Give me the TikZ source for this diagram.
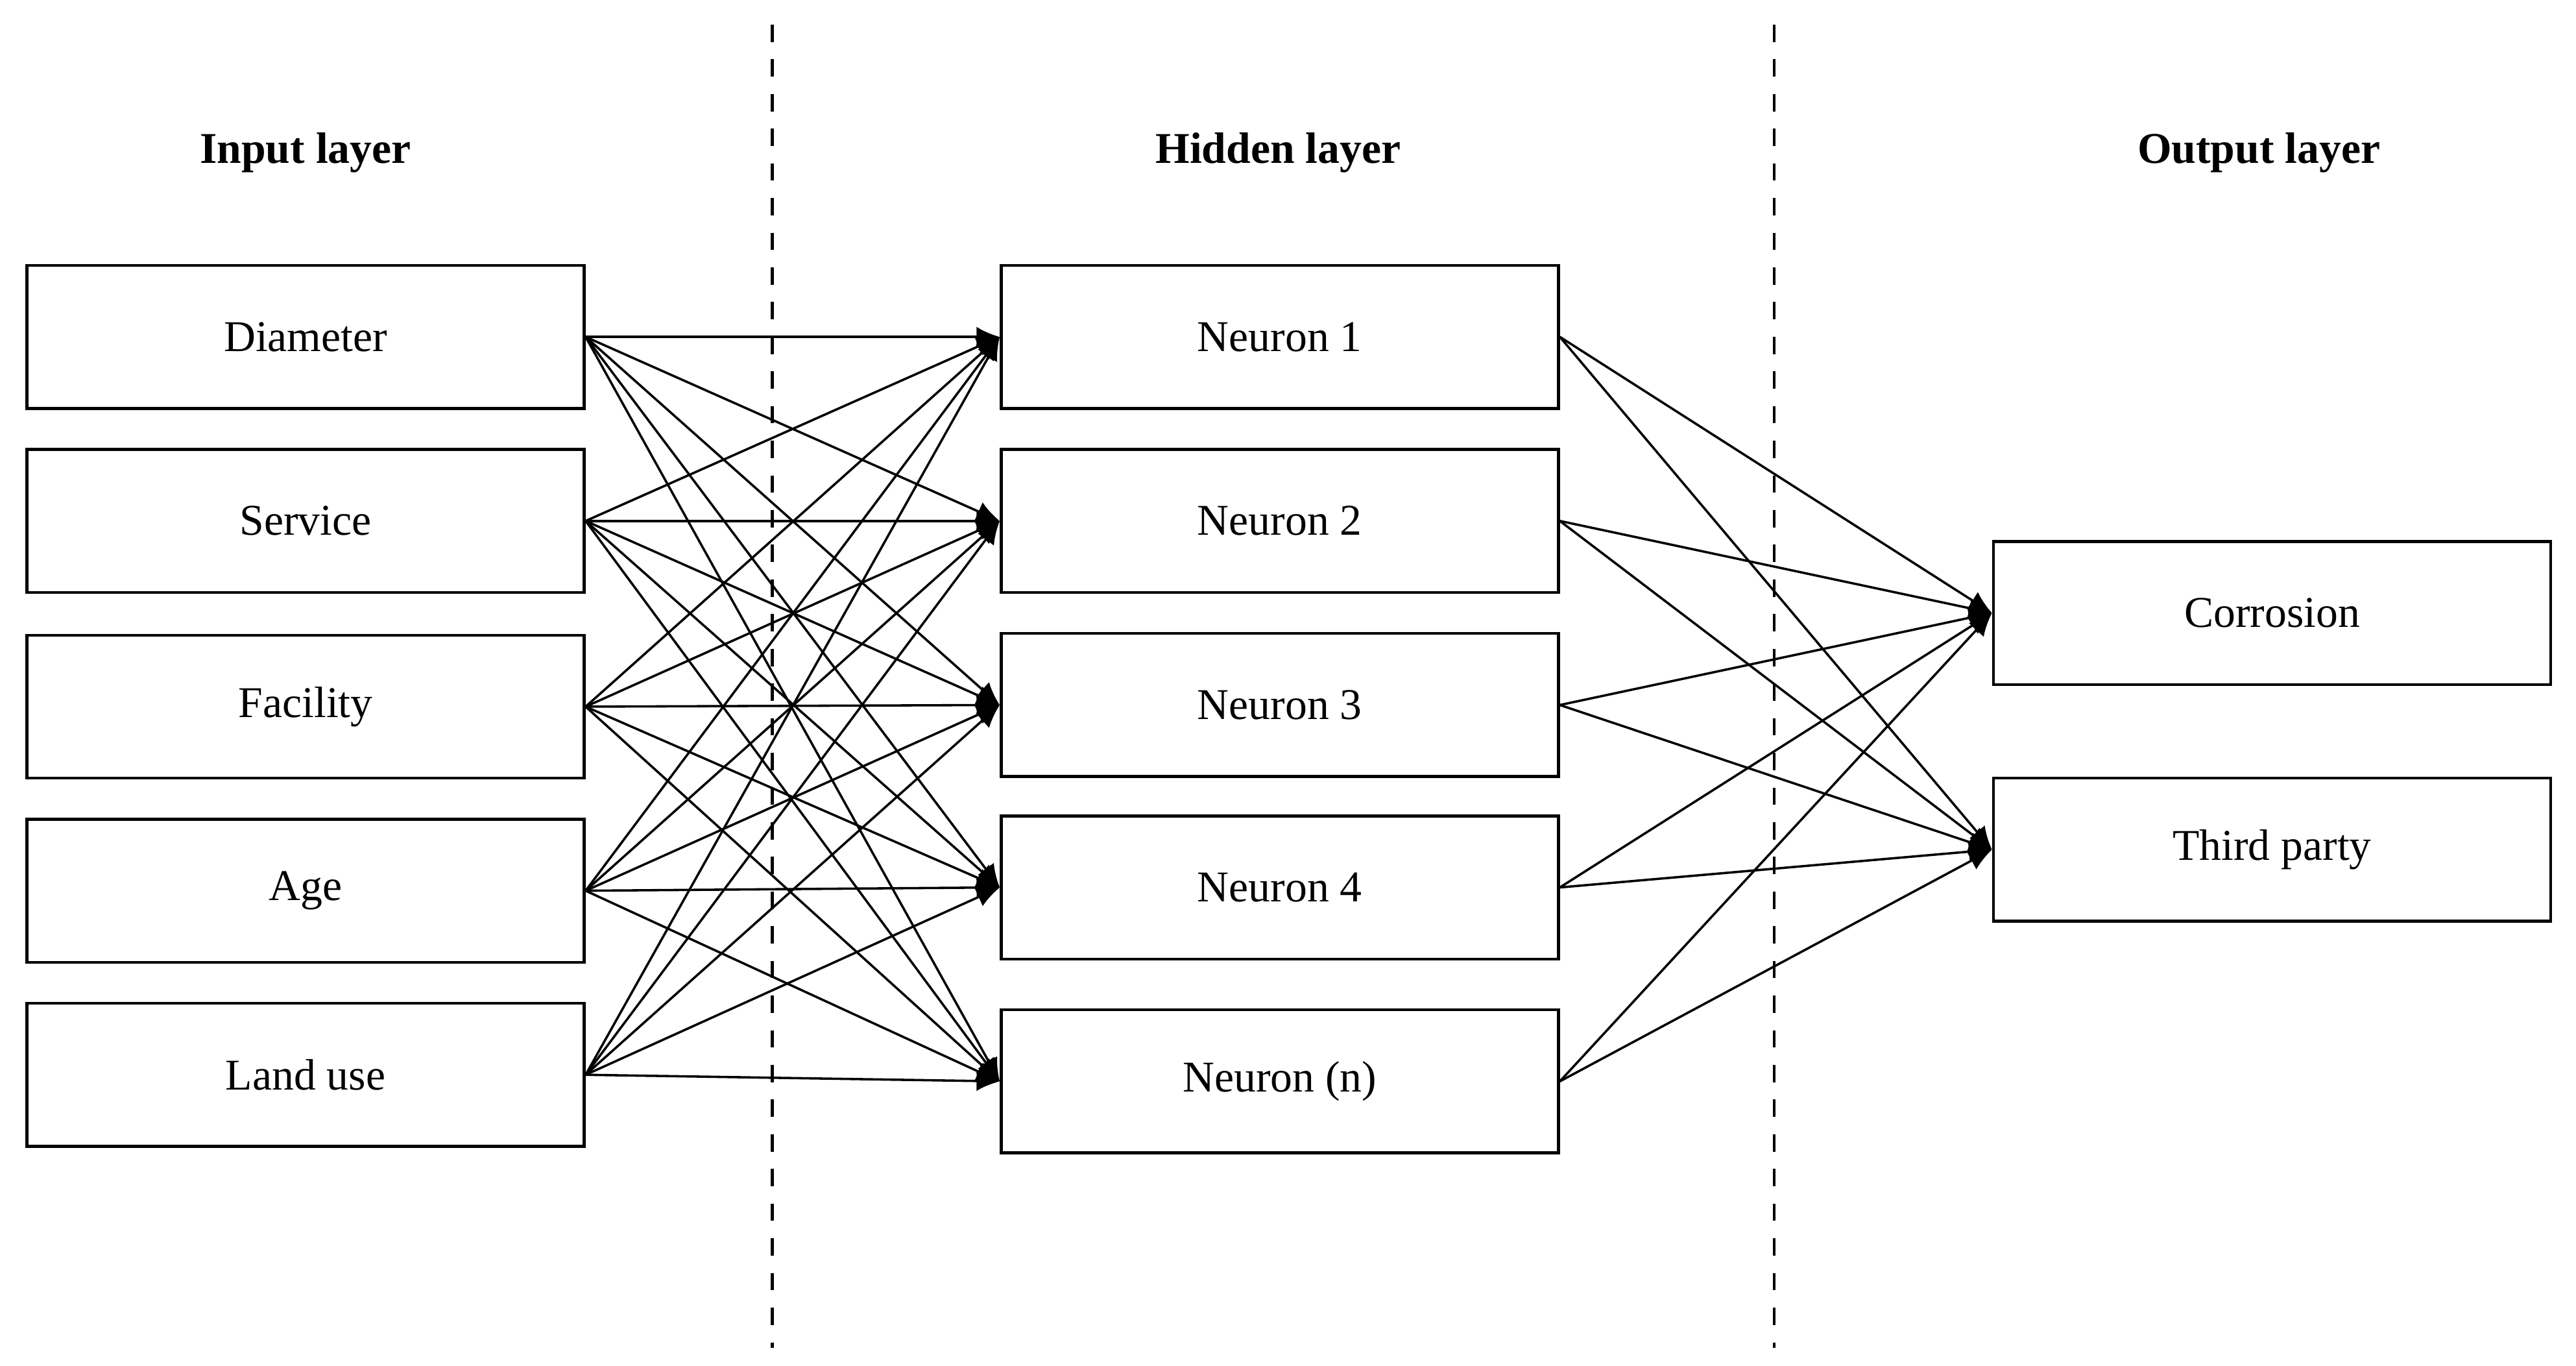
\documentclass[tikz,border=0pt]{standalone}
\usepackage{fontspec}
\setmainfont{Liberation Serif}
\usetikzlibrary{arrows.meta}
\begin{document}
\begin{tikzpicture}[x=0.01cm,y=-0.01cm,
 box/.style={draw,line width=0.5pt,minimum width=3.39cm,minimum height=0.87cm,inner sep=0,font=\fontsize{7.6}{9}\selectfont},
 hdr/.style={font=\fontsize{7.6}{9}\selectfont\bfseries},
 conn/.style={line width=0.4pt,-{Latex[length=4pt,width=3.5pt]}},
 divider/.style={dashed,line width=0.5pt}]
\useasboundingbox (0,0) rectangle (1568,831);
\node[hdr] (h1) at (186,93) {Input layer};
\node[hdr] (h2) at (778,93) {Hidden layer};
\node[hdr] (h3) at (1375,93) {Output layer};
\coordinate (d1a) at (470,15); \coordinate (d1b) at (470,820);
\coordinate (d2a) at (1080,15); \coordinate (d2b) at (1080,820);
\draw[divider] (d1a) -- (d1b);
\draw[divider] (d2a) -- (d2b);
\node[box] (i1) at (186,205) {Diameter};
\node[box] (i2) at (186,317) {Service};
\node[box] (i3) at (186,430) {Facility};
\node[box] (i4) at (186,542) {Age};
\node[box] (i5) at (186,654) {Land use};
\node[box] (n1) at (779,205) {Neuron 1};
\node[box] (n2) at (779,317) {Neuron 2};
\node[box] (n3) at (779,429) {Neuron 3};
\node[box] (n4) at (779,540) {Neuron 4};
\node[box] (n5) at (779,658) {Neuron (n)};
\node[box] (o1) at (1383,373) {Corrosion};
\node[box] (o2) at (1383,517) {Third party};
\foreach \i in {1,...,5}{\foreach \j in {1,...,5}{\draw[conn] (i\i.east) -- (n\j.west);}}
\foreach \j in {1,...,5}{\foreach \k in {1,2}{\draw[conn] (n\j.east) -- (o\k.west);}}
\end{tikzpicture}
\end{document}
